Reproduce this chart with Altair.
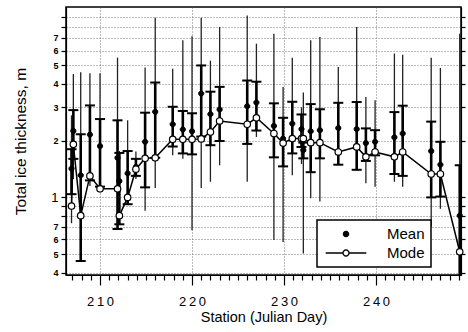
import math
import altair as alt
import pandas as pd

# Station (Julian day)
day = [206.9, 207.1, 207.9, 208.9, 210.0, 211.9, 212.1, 213.0, 213.9, 214.9,
       216.0, 217.9, 219.0, 220.0, 221.0, 222.0, 223.0, 226.0, 227.0, 228.9,
       229.9, 230.9, 231.9, 232.1, 232.9, 233.9, 235.9, 237.9, 238.9, 239.9,
       242.0, 242.9, 246.0, 247.0, 249.1]
# Modal thickness, m
mode = [0.90, 1.91, 0.80, 1.30, 1.11, 1.11, 0.80, 1.00, 1.41, 1.61,
        1.62, 2.03, 2.03, 2.03, 2.04, 2.22, 2.54, 2.44, 2.64, 2.18,
        1.94, 2.05, 2.05, 2.05, 1.95, 1.95, 1.74, 1.85, 1.64, 1.74,
        1.64, 1.74, 1.33, 1.33, 0.515]
# Mean thickness, m
mean = [1.42, 2.25, 1.31, 2.15, 1.87, 1.62, 1.22, 1.34, 1.45, 1.97,
        2.84, 2.44, 2.29, 2.24, 3.55, 2.76, 2.92, 3.04, 3.18, 2.39,
        2.05, 2.46, 2.30, 1.78, 2.24, 2.27, 2.33, 2.30, 1.94, 1.97,
        2.08, 2.18, 1.76, 1.49, 0.80]
# Standard deviation, m
sd = [0.38, 0.65, 0.85, 0.92, 0.73, 0.94, 0.50, 0.42, 0.15, 0.84,
      1.22, 0.58, 0.58, 0.55, 1.45, 0.87, 0.93, 1.12, 0.92, 0.76,
      0.59, 0.75, 0.45, 0.17, 0.88, 0.66, 0.84, 0.90, 0.38, 0.30,
      0.75, 0.88, 0.76, 0.48, 0.68]
# Minimum / maximum thickness, m
rmin = [0.73, 1.25, 0.46, 1.15, 1.10, 0.90, 0.72, 0.95, 1.25, 0.85,
        1.12, 1.67, 1.60, 0.67, 1.12, 1.21, 1.48, 1.21, 2.09, 0.594,
        0.58, 1.31, 1.50, 0.505, 0.99, 0.95, 1.49, 1.39, 1.19, 1.14,
        1.21, 1.14, 0.70, 0.87, 0.30]
rmax = [2.72, 4.50, 4.60, 4.55, 4.55, 5.50, 1.76, 2.56, 1.75, 4.87,
        8.95, 4.80, 6.80, 7.15, 8.95, 5.30, 8.00, 9.20, 6.52, 7.36,
        3.84, 5.50, 3.00, 3.59, 6.80, 7.07, 4.90, 8.00, 3.40, 3.27,
        5.78, 5.70, 5.50, 4.85, 7.36]

y_ticks = [0.4, 0.5, 0.6, 0.7, 0.8, 0.9, 1, 2, 3, 4, 5, 6, 7, 8, 9]
x_ticks = list(range(207, 250))
legend_names = ["Mean", "Mode"]

df = pd.DataFrame(dict(day=day, mode=mode, mean=mean, sd=sd, rmin=rmin, rmax=rmax))
df["lo"] = (df["mean"] - df["sd"]).clip(lower=0.05)
df["hi"] = df["mean"] + df["sd"]
df["kind"] = "Mean"

FONT = "Liberation Sans"
xscale = alt.Scale(domain=[206.3, 249.24], nice=False, zero=False)
yscale = alt.Scale(type="log", domain=[0.388, 10.2], nice=False)

major = "datum.value % 10 === 0"
X = alt.X("day:Q", scale=xscale, axis=alt.Axis(
    title="Station (Julian Day)", values=x_ticks,
    tickSize={"condition": {"test": major, "value": 10}, "value": 5},
    gridOpacity={"condition": {"test": major, "value": 1}, "value": 0},
    labelExpr=major + " ? join(split(format(datum.value, 'd'), ''), '\u2009') : ''",
    labelOverlap=False, labelFontSize=13, labelPadding=10,
    titleFontSize=14.5, titlePadding=2, titleFontWeight="normal"))

left_axis = alt.Axis(
    title="Total ice thickness, m", values=y_ticks, orient="left", grid=True,
    labelExpr="datum.value < 0.75 ? '' + round(datum.value * 10) : (datum.value < 0.95 ? '' : (datum.value < 7.5 ? '' + round(datum.value) : ''))",
    labelFontSize={"condition": {"test": "datum.value == 1", "value": 13}, "value": 9},
    labelFontWeight={"condition": {"test": "datum.value == 1", "value": "normal"}, "value": "bold"},
    labelOverlap=False, tickSize=5, labelPadding=3,
    titleFontSize=15.5, titlePadding=22, titleFontWeight="normal")
right_axis = alt.Axis(title=None, values=y_ticks, orient="right", labels=False,
                      tickSize=4, grid=False)

base = alt.Chart(df)

rng = base.mark_rule(color="#222", strokeWidth=1.3, clip=True).encode(
    x=X, y=alt.Y("rmin:Q", scale=yscale, axis=None), y2="rmax:Q")
sdbar = base.mark_rule(color="black", strokeWidth=2.6, clip=True).encode(
    x=X, y=alt.Y("lo:Q", scale=yscale, axis=None), y2="hi:Q")
cap_lo = base.mark_tick(orient="horizontal", size=10, thickness=2, color="black",
                        opacity=1, clip=True).encode(
    x=X, y=alt.Y("lo:Q", scale=yscale, axis=None))
cap_hi = base.mark_tick(orient="horizontal", size=10, thickness=2, color="black",
                        opacity=1, clip=True).encode(
    x=X, y=alt.Y("hi:Q", scale=yscale, axis=None))


def ring(r, n=16):
    pts = [(r * math.cos(2 * math.pi * k / n), r * math.sin(2 * math.pi * k / n))
           for k in range(n)]
    return "M" + "L".join(f"{x:.3f},{y:.3f}" for x, y in pts) + "Z"


mean_path = ring(0.37)
mode_path = "M-2.9,0L-0.43,0M0.43,0L2.9,0" + ring(0.43)

legend = alt.Legend(title=None, orient="none", legendX=251, legendY=213,
                    strokeColor="black", fillColor="white", padding=6,
                    labelFont=FONT, labelFontSize=15, labelColor="black",
                    symbolSize=196, symbolStrokeWidth=1.3, symbolStrokeColor="black",
                    symbolOffset=15, labelOffset=33, rowPadding=3)

means = base.mark_point(filled=True, opacity=1, strokeWidth=1).encode(
    x=X, y=alt.Y("mean:Q", scale=yscale, axis=None),
    shape=alt.Shape("kind:N", scale=alt.Scale(domain=legend_names,
                                              range=[mean_path, mode_path]), legend=legend),
    fill=alt.Fill("kind:N", scale=alt.Scale(domain=legend_names,
                                            range=["black", "white"]), legend=legend),
    stroke=alt.Stroke("kind:N", scale=alt.Scale(domain=legend_names,
                                                range=["black", "black"]), legend=legend),
    size=alt.value(196))

mode_line = base.mark_line(color="black", strokeWidth=1.5).encode(
    x=X, y=alt.Y("mode:Q", scale=yscale, axis=left_axis))
mode_pts = base.mark_point(filled=True, fill="white", stroke="black", strokeWidth=1.2,
                           opacity=1, shape="circle", size=42).encode(
    x=X, y=alt.Y("mode:Q", scale=yscale, axis=right_axis))

chart = alt.layer(rng, sdbar, cap_lo, cap_hi, means, mode_line, mode_pts).resolve_axis(
    y="independent"
).properties(
    width=395, height=268,
    padding={"left": 66, "top": 7, "right": 7, "bottom": 57},
    autosize=alt.AutoSizeParams(type="none"),
).configure(font=FONT, background="white").configure_view(
    stroke="black", strokeWidth=1.5
).configure_axis(
    labelFont=FONT, titleFont=FONT, labelColor="black", titleColor="black",
    domainColor="black", tickColor="black", domainWidth=1.2, tickWidth=1.2,
    gridColor="#555", gridDash=[1, 2], gridWidth=0.8,
).configure_legend(strokeWidth=1.5)

chart.save("out.html", embed_options={"renderer": "svg", "actions": False})
